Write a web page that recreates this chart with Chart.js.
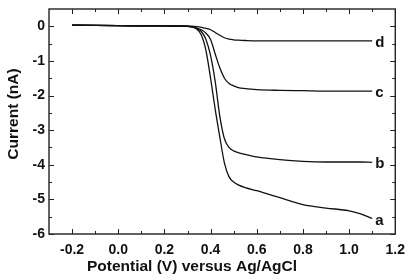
<!DOCTYPE html>
<html>
<head>
<meta charset="utf-8">
<script src="https://cdn.jsdelivr.net/npm/chart.js@4"></script>
<style>
  html, body { margin: 0; padding: 0; background: #fff; }
  #wrap { width: 413px; height: 280px; }
</style>
</head>
<body>
<div id="wrap"><canvas id="cv" width="413" height="280"></canvas></div>
<script>
'use strict';

// potential (V vs Ag/AgCl), shared by all four traces
const potential = [-0.2, 0.0, 0.2, 0.3, 0.34, 0.36, 0.38, 0.40, 0.42, 0.44, 0.46, 0.48, 0.50, 0.52, 0.55, 0.6, 0.7, 0.8, 0.9, 1.0, 1.05, 1.1];

// current (nA)
const currentA = [0.03, 0.02, 0.01, 0.0, -0.08, -0.25, -0.7, -1.5, -2.4, -3.2, -3.95, -4.35, -4.5, -4.58, -4.66, -4.75, -4.95, -5.15, -5.25, -5.33, -5.42, -5.55];
const currentB = [0.03, 0.02, 0.01, 0.0, -0.06, -0.15, -0.38, -0.85, -1.6, -2.6, -3.25, -3.5, -3.6, -3.65, -3.7, -3.77, -3.85, -3.9, -3.92, -3.92, -3.92, -3.93];
const currentC = [0.03, 0.02, 0.01, 0.0, -0.05, -0.1, -0.2, -0.38, -0.8, -1.2, -1.5, -1.65, -1.72, -1.77, -1.8, -1.83, -1.85, -1.86, -1.87, -1.87, -1.87, -1.87];
const currentD = [0.03, 0.02, 0.01, 0.01, -0.01, -0.03, -0.06, -0.1, -0.18, -0.26, -0.33, -0.37, -0.39, -0.4, -0.41, -0.42, -0.42, -0.42, -0.42, -0.42, -0.42, -0.42];

const curveLabels = ['a', 'b', 'c', 'd'];

const xTickValues = [-0.2, 0.0, 0.2, 0.4, 0.6, 0.8, 1.0, 1.2];
const xMinorValues = [-0.1, 0.1, 0.3, 0.5, 0.7, 0.9, 1.1];
const yTickValues = [-6, -5, -4, -3, -2, -1, 0];
const yMinorValues = [-5.5, -4.5, -3.5, -2.5, -1.5, -0.5];

const xTitle = 'Potential (V) versus Ag/AgCl';
const yTitle = 'Current (nA)';

const FONT = 'Liberation Sans, Arial, sans-serif';

function pts(ys) {
  return potential.map(function(p, i) { return {x: p, y: ys[i]}; });
}

// frame + inward ticks on all four sides, plus the axis titles
const frameTicks = {
  id: 'frameTicks',
  afterDraw(chart) {
    const ctx = chart.ctx;
    const a = chart.chartArea;
    const x = chart.scales.x, y = chart.scales.y;
    ctx.save();
    ctx.strokeStyle = '#222';
    ctx.lineWidth = 1.4;
    ctx.strokeRect(a.left, a.top, a.right - a.left, a.bottom - a.top);
    ctx.lineWidth = 1;
    ctx.beginPath();
    function xt(v, len) {
      const px = Math.round(x.getPixelForValue(v)) + 0.5;
      ctx.moveTo(px, a.bottom); ctx.lineTo(px, a.bottom - len);
      ctx.moveTo(px, a.top); ctx.lineTo(px, a.top + len);
    }
    function yt(v, len) {
      const py = Math.round(y.getPixelForValue(v)) + 0.5;
      ctx.moveTo(a.left, py); ctx.lineTo(a.left + len, py);
      ctx.moveTo(a.right, py); ctx.lineTo(a.right - len, py);
    }
    xTickValues.forEach(function(v) { xt(v, 5); });
    xMinorValues.forEach(function(v) { xt(v, 3); });
    yTickValues.forEach(function(v) { yt(v, 5); });
    yMinorValues.forEach(function(v) { yt(v, 3); });
    ctx.stroke();

    // titles
    ctx.fillStyle = '#111';
    ctx.font = 'bold 15.5px ' + FONT;
    ctx.textAlign = 'center';
    ctx.textBaseline = 'middle';
    ctx.fillText(xTitle, a.left + 143, a.bottom + 33);
    ctx.translate(14, a.top + 105);
    ctx.rotate(-Math.PI / 2);
    ctx.fillText(yTitle, 0, 0);
    ctx.restore();
  }
};

// letters at the end of each trace
const endLabels = {
  id: 'endLabels',
  afterDatasetsDraw(chart) {
    const ctx = chart.ctx;
    ctx.save();
    ctx.font = 'bold 15px ' + FONT;
    ctx.fillStyle = '#111';
    ctx.textAlign = 'left';
    ctx.textBaseline = 'middle';
    chart.data.datasets.forEach(function(ds, i) {
      const meta = chart.getDatasetMeta(i);
      const last = meta.data[meta.data.length - 1];
      ctx.fillText(ds.label, last.x + 3, last.y + 2);
    });
    ctx.restore();
  }
};

const series = [currentA, currentB, currentC, currentD];

new Chart(document.getElementById('cv'), {
  type: 'line',
  data: {
    datasets: series.map(function(s, i) {
      return {
        label: curveLabels[i],
        data: pts(s),
        borderColor: '#111',
        borderWidth: 1.3,
        pointRadius: 0,
        fill: false,
        cubicInterpolationMode: 'monotone'
      };
    })
  },
  options: {
    responsive: false,
    animation: false,
    layout: { padding: { top: 9, right: 16, left: 0, bottom: 0 } },
    plugins: {
      legend: { display: false },
      tooltip: { enabled: false }
    },
    scales: {
      x: {
        type: 'linear',
        min: -0.3,
        max: 1.2,
        grid: { display: false, drawTicks: false },
        border: { display: false },
        afterBuildTicks: function(s) { s.ticks = xTickValues.map(function(v) { return {value: v}; }); },
        afterFit: function(s) { s.height = 46; },
        ticks: {
          padding: 8,
          color: '#111',
          font: { family: FONT, size: 14, weight: 'bold' },
          callback: function(v) { return Number(v).toFixed(1); }
        }
      },
      y: {
        type: 'linear',
        min: -6,
        max: 0.5,
        grid: { display: false, drawTicks: false },
        border: { display: false },
        afterBuildTicks: function(s) { s.ticks = yTickValues.map(function(v) { return {value: v}; }); },
        // top tick (0) sits below the top edge, so no extra room is needed above it
        afterFit: function(s) { s.width = 49; s.paddingTop = 0; },
        ticks: {
          padding: 4,
          color: '#111',
          font: { family: FONT, size: 14, weight: 'bold' },
          callback: function(v) { return String(v); }
        }
      }
    }
  },
  plugins: [frameTicks, endLabels]
});
</script>
</body>
</html>
